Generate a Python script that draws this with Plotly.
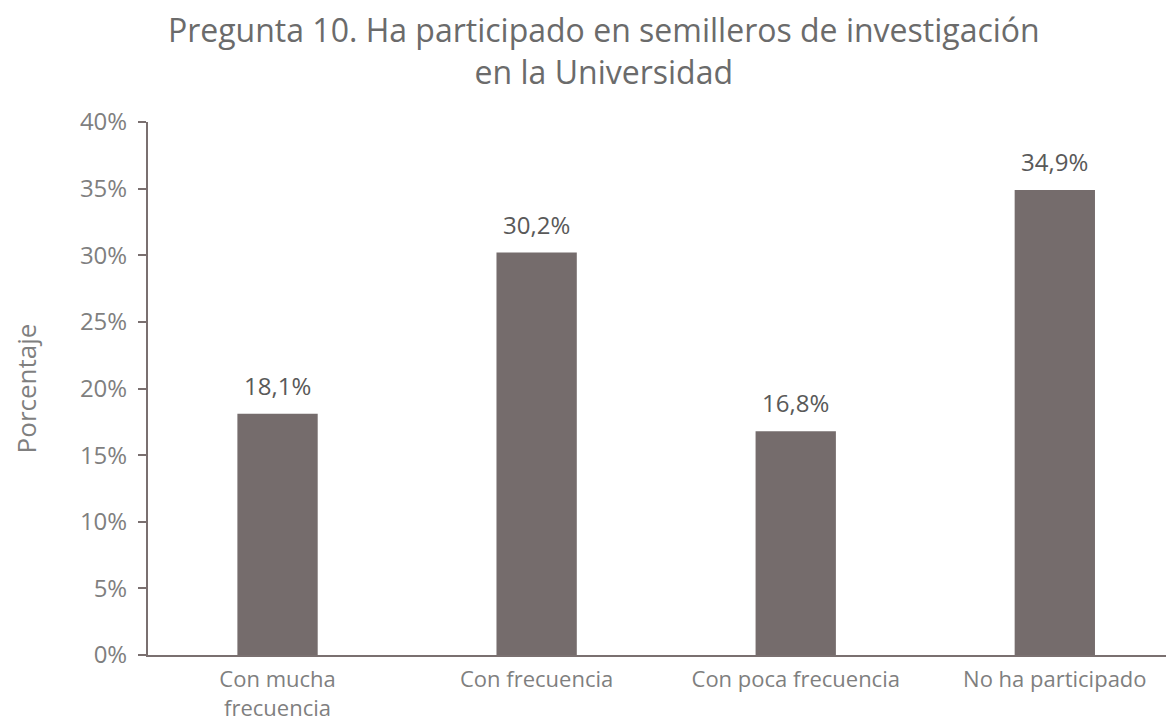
import plotly.graph_objects as go

# Datos
categorias = ["Con mucha<br>frecuencia", "Con frecuencia", "Con poca frecuencia", "No ha participado"]
porcentajes = [18.1, 30.2, 16.8, 34.9]
etiquetas = [f"{v:.1f}%".replace(".", ",") for v in porcentajes]
ticks_y = [0, 5, 10, 15, 20, 25, 30, 35, 40]
textos_y = [f"{t}%" for t in ticks_y]

color_barra = "#756c6c"
color_texto = "#7f7f7f"
fuente = "Open Sans"

fig = go.Figure(go.Bar(
    x=categorias,
    y=porcentajes,
    marker=dict(color=color_barra, line=dict(width=0)),
    width=0.31,
))

# Etiquetas de datos
for cat, val, txt in zip(categorias, porcentajes, etiquetas):
    fig.add_annotation(x=cat, y=val, text=txt, showarrow=False,
                       yanchor="bottom", yshift=10,
                       font=dict(size=24, color="#595959", family=fuente))

# la página añade 8 px de margen al body, se compensa aquí
fig.update_layout(
    width=1166, height=718,
    margin=dict(l=140, r=0, t=114, b=71, autoexpand=False),
    plot_bgcolor="white", paper_bgcolor="white",
    title=dict(text="Pregunta 10. Ha participado en semilleros de investigación<br>en la Universidad",
               x=0.511, xanchor="center", y=0.952, yanchor="top",
               font=dict(size=32, color="#6b6b6b", family=fuente)),
    showlegend=False,
    font=dict(family=fuente, color=color_texto),
)

fig.update_xaxes(
    range=[-0.5, 3.46], automargin=False,
    showline=True, linecolor="#7a7070", linewidth=2,
    ticks="", tickfont=dict(size=22, color=color_texto), ticklabelstandoff=4,
    showgrid=False,
)
fig.update_yaxes(
    range=[0, 40], tickvals=ticks_y, ticktext=textos_y, automargin=False,
    showline=True, linecolor="#7a7070", linewidth=2,
    ticks="outside", ticklen=8, tickcolor="#7a7070", tickwidth=2,
    tickfont=dict(size=24, color=color_texto), ticklabelstandoff=6,
    showgrid=False, zeroline=False,
    title=dict(text="Porcentaje", font=dict(size=26, color=color_texto), standoff=36),
)

fig.write_html("out.html")
